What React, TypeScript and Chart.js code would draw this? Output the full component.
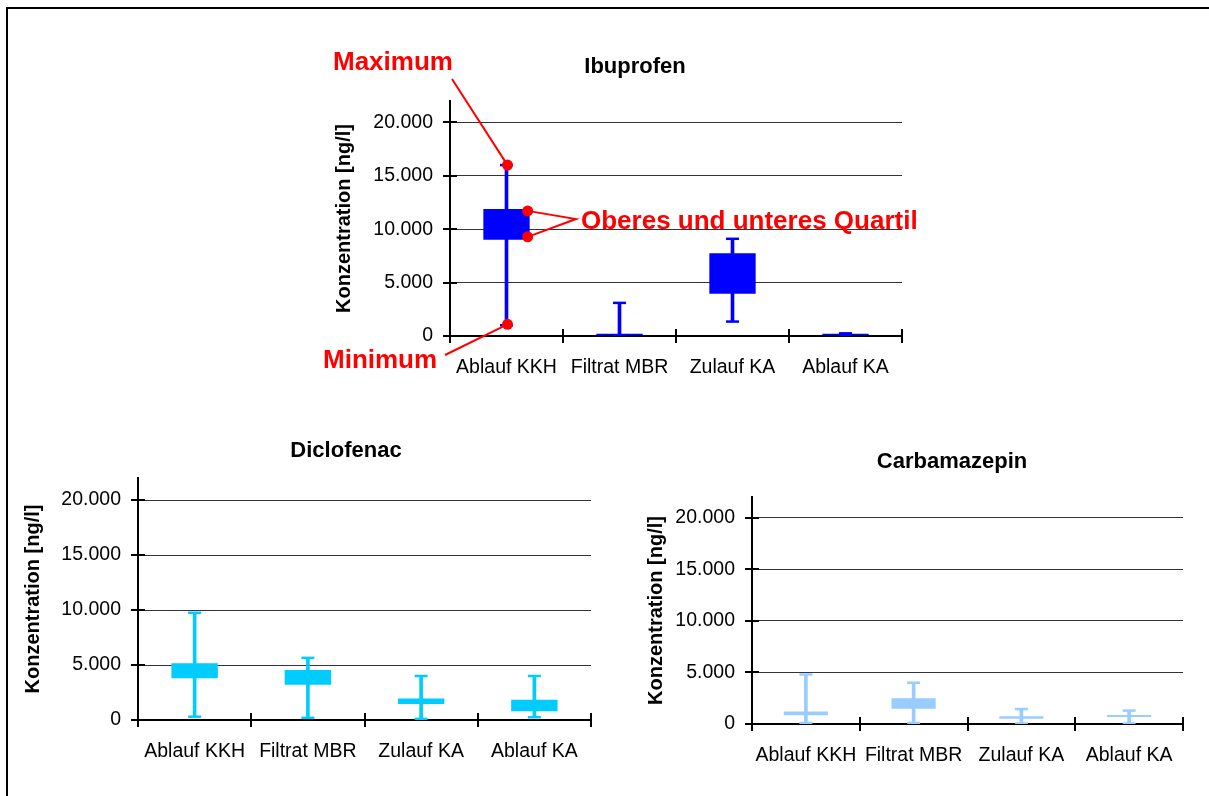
import React, { useEffect, useRef } from 'react';
import { Chart, registerables } from 'chart.js';

Chart.register(...registerables);

const FONT = "'Liberation Sans', Arial, Helvetica, sans-serif";
Chart.defaults.font.family = FONT;
Chart.defaults.color = '#000';

// ---------- data ----------
const categories = ['Ablauf KKH', 'Filtrat MBR', 'Zulauf KA', 'Ablauf KA'];
const yTickValues = [0, 5000, 10000, 15000, 20000];
const yAxisMax = 22000;
const yAxisTitle = 'Konzentration [ng/l]';

const ibuprofenMin = [1000, 0, 1350, 0];
const ibuprofenQ1 = [9000, 50, 3950, 80];
const ibuprofenQ3 = [11900, 200, 7750, 200];
const ibuprofenMax = [16000, 3100, 9100, 250];

const diclofenacMin = [300, 200, 100, 250];
const diclofenacQ1 = [3800, 3200, 1450, 800];
const diclofenacQ3 = [5150, 4550, 1950, 1850];
const diclofenacMax = [9750, 5650, 4000, 4000];

const carbamazepinMin = [100, 100, 50, 50];
const carbamazepinQ1 = [850, 1480, 500, 680];
const carbamazepinQ3 = [1200, 2500, 750, 870];
const carbamazepinMax = [4800, 4000, 1450, 1300];

const annotationTexts = ['Maximum', 'Minimum', 'Oberes und unteres Quartil'];

// ---------- helpers ----------
function fmt(v: number) {
  return String(v).replace(/\B(?=(\d{3})+(?!\d))/g, '.');
}

const crossTicks = {
  id: 'crossTicks',
  afterDraw(chart: any) {
    const { ctx, chartArea, scales } = chart;
    const xs = scales.x;
    const ys = scales.y;
    ctx.save();
    ctx.strokeStyle = '#000';
    ctx.lineWidth = 2;
    ctx.beginPath();
    ys.ticks.forEach((t: any) => {
      const py = Math.round(ys.getPixelForValue(t.value));
      ctx.moveTo(chartArea.left - 7, py);
      ctx.lineTo(chartArea.left + 7, py);
    });
    for (let i = 0; i <= categories.length; i++) {
      const px = Math.round(xs.getPixelForValue(i - 0.5));
      ctx.moveTo(px, chartArea.bottom - 7);
      ctx.lineTo(px, chartArea.bottom + 7);
    }
    ctx.stroke();
    ctx.restore();
  },
};

// annotation label placement (canvas coordinates of the Ibuprofen chart)
const ANNOT_LAYOUT = {
  max: { textX: 13, textY: 40, lineX: 132, lineY: 49 },
  min: { textX: 3, textY: 338, lineX: 125, lineY: 325 },
  quart: { textX: 261, textY: 199, lineX: 256, lineY: 189 },
};

const annotationPlugin = {
  id: 'boxAnnotations',
  afterDraw(chart: any) {
    const { ctx, scales } = chart;
    const xs = scales.x;
    const ys = scales.y;
    const box = chart.getDatasetMeta(0).data[0];
    const cx = xs.getPixelForValue(0) + 1;
    const boxRight = box.x + box.width / 2 - 2;
    const pMax = { x: cx, y: ys.getPixelForValue(ibuprofenMax[0]) };
    const pMin = { x: cx, y: ys.getPixelForValue(ibuprofenMin[0]) - 1 };
    const pQ3 = { x: boxRight, y: ys.getPixelForValue(ibuprofenQ3[0]) + 2 };
    const pQ1 = { x: boxRight, y: ys.getPixelForValue(ibuprofenQ1[0]) - 3 };
    const red = '#FF0000';
    ctx.save();
    ctx.strokeStyle = red;
    ctx.lineWidth = 2;
    ctx.beginPath();
    ctx.moveTo(ANNOT_LAYOUT.max.lineX, ANNOT_LAYOUT.max.lineY);
    ctx.lineTo(pMax.x, pMax.y);
    ctx.moveTo(ANNOT_LAYOUT.min.lineX, ANNOT_LAYOUT.min.lineY);
    ctx.lineTo(pMin.x, pMin.y);
    ctx.moveTo(pQ3.x, pQ3.y);
    ctx.lineTo(ANNOT_LAYOUT.quart.lineX, ANNOT_LAYOUT.quart.lineY);
    ctx.lineTo(pQ1.x, pQ1.y);
    ctx.stroke();
    ctx.fillStyle = red;
    [pMax, pMin, pQ3, pQ1].forEach((p) => {
      ctx.beginPath();
      ctx.arc(p.x, p.y, 5.5, 0, Math.PI * 2);
      ctx.fill();
    });
    ctx.font = `bold 26px ${FONT}`;
    ctx.textBaseline = 'alphabetic';
    ctx.textAlign = 'left';
    ctx.fillText(annotationTexts[0], ANNOT_LAYOUT.max.textX, ANNOT_LAYOUT.max.textY);
    ctx.fillText(annotationTexts[1], ANNOT_LAYOUT.min.textX, ANNOT_LAYOUT.min.textY);
    ctx.fillText(annotationTexts[2], ANNOT_LAYOUT.quart.textX, ANNOT_LAYOUT.quart.textY);
    ctx.restore();
  },
};

type Frame = { left: number; top: number; width: number; height: number };
type Lay = {
  yAxisWidth: number;
  xAxisHeight: number;
  titlePadTop: number;
  titlePadBottom: number;
  axisTitlePad: number;
  padRight: number;
};

function BoxChart(props: {
  title: string;
  color: string;
  min: number[];
  q1: number[];
  q3: number[];
  max: number[];
  frame: Frame;
  lay: Lay;
  annotate?: boolean;
}) {
  const ref = useRef<HTMLCanvasElement>(null);
  const { title, color, min, q1, q3, max, frame, lay, annotate } = props;

  useEffect(() => {
    if (!ref.current) return;
    const chart = new Chart(ref.current, {
      type: 'bar',
      data: {
        labels: categories,
        datasets: [
          {
            type: 'bar',
            label: 'Quartile',
            data: categories.map((_, i) => [q1[i], q3[i]]),
            backgroundColor: color,
            borderWidth: 0,
            barPercentage: 0.41,
            categoryPercentage: 1,
            grouped: false,
          } as any,
          {
            type: 'line',
            label: 'Maximum',
            data: max,
            showLine: false,
            pointStyle: 'line',
            pointRadius: 6.5,
            pointBorderWidth: 2.5,
            pointBorderColor: color,
            borderColor: color,
          } as any,
          {
            type: 'line',
            label: 'Minimum',
            data: min,
            showLine: false,
            pointStyle: 'line',
            pointRadius: 6.5,
            pointBorderWidth: 2.5,
            pointBorderColor: color,
            borderColor: color,
          } as any,
          {
            type: 'bar',
            label: 'Spannweite',
            data: categories.map((_, i) => [min[i], max[i]]),
            backgroundColor: color,
            borderWidth: 0,
            barThickness: 3,
            grouped: false,
          } as any,
        ],
      },
      options: {
        responsive: false,
        animation: false,
        events: [],
        layout: { padding: 0 },
        plugins: {
          legend: { display: false },
          tooltip: { enabled: false },
          title: {
            display: true,
            text: title,
            color: '#000',
            font: { family: FONT, size: 22, weight: 'bold' },
            padding: { top: lay.titlePadTop, bottom: lay.titlePadBottom },
          },
        },
        scales: {
          x: {
            type: 'category',
            offset: true,
            grid: { display: false, drawTicks: false },
            border: { display: true, color: '#000', width: 2 },
            ticks: {
              color: '#000',
              font: { family: FONT, size: 19.5 },
              padding: 20,
              maxRotation: 0,
              autoSkip: false,
            },
            afterFit: (s: any) => {
              s.height = lay.xAxisHeight;
            },
          },
          y: {
            type: 'linear',
            min: 0,
            max: yAxisMax,
            grid: { color: '#333', lineWidth: 1, drawTicks: false },
            border: { display: true, color: '#000', width: 2 },
            ticks: {
              stepSize: 5000,
              padding: 17,
              color: '#000',
              font: { family: FONT, size: 19.5 },
              callback: (v: any) => fmt(Number(v)),
            },
            afterBuildTicks: (axis: any) => {
              axis.ticks = yTickValues.map((v) => ({ value: v }));
            },
            title: {
              display: true,
              text: yAxisTitle,
              color: '#000',
              font: { family: FONT, size: 20, weight: 'bold' },
              padding: { top: lay.axisTitlePad, bottom: 0 },
            },
            afterFit: (s: any) => {
              s.width = lay.yAxisWidth;
            },
          },
          // empty right-hand spacer so the title is centred on the whole chart object
          spacer: {
            type: 'linear',
            position: 'right',
            display: true,
            grid: { display: false, drawTicks: false },
            border: { display: false },
            ticks: { display: false },
            title: { display: false },
            afterFit: (s: any) => {
              s.width = lay.padRight;
            },
          },
        },
      } as any,
      plugins: annotate ? [crossTicks, annotationPlugin] : [crossTicks],
    });
    return () => chart.destroy();
  }, []);

  return (
    <canvas
      ref={ref}
      width={frame.width}
      height={frame.height}
      style={{ position: 'absolute', left: frame.left, top: frame.top }}
    />
  );
}

export default function App() {
  return (
    <div
      style={{
        position: 'fixed',
        left: 0,
        top: 0,
        width: 1209,
        height: 796,
        overflow: 'hidden',
        background: '#fff',
      }}
    >
      <div
        style={{
          position: 'absolute',
          left: 6,
          top: 7,
          width: 1400,
          height: 1000,
          borderTop: '2px solid #000',
          borderLeft: '2px solid #000',
        }}
      />
      <BoxChart
        title="Ibuprofen"
        color="#0000FF"
        min={ibuprofenMin}
        q1={ibuprofenQ1}
        q3={ibuprofenQ3}
        max={ibuprofenMax}
        frame={{ left: 320, top: 30, width: 630, height: 365 }}
        lay={{ yAxisWidth: 130, xAxisHeight: 59, titlePadTop: 23.5, titlePadBottom: 21.1, axisTitlePad: 12, padRight: 48 }}
        annotate
      />
      <BoxChart
        title="Diclofenac"
        color="#00CCFF"
        min={diclofenacMin}
        q1={diclofenacQ1}
        q3={diclofenacQ3}
        max={diclofenacMax}
        frame={{ left: 8, top: 420, width: 676, height: 370 }}
        lay={{ yAxisWidth: 130, xAxisHeight: 70, titlePadTop: 18.1, titlePadBottom: 13.5, axisTitlePad: 13, padRight: 93 }}
      />
      <BoxChart
        title="Carbamazepin"
        color="#99CCFF"
        min={carbamazepinMin}
        q1={carbamazepinQ1}
        q3={carbamazepinQ3}
        max={carbamazepinMax}
        frame={{ left: 640, top: 430, width: 624, height: 360 }}
        lay={{ yAxisWidth: 112, xAxisHeight: 66, titlePadTop: 18.8, titlePadBottom: 21.8, axisTitlePad: 4.4, padRight: 81 }}
      />
    </div>
  );
}
